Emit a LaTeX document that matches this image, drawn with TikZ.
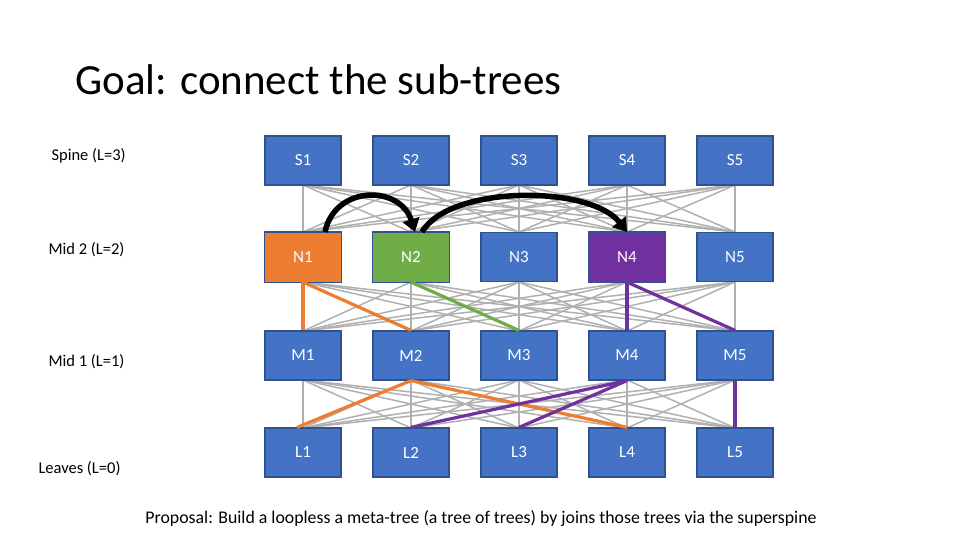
\documentclass[tikz,border=0pt]{standalone}
\usepackage{fontspec}
\setmainfont{Carlito}
\usetikzlibrary{arrows.meta}
\definecolor{boxblue}{HTML}{4472C4}
\definecolor{boxedge}{HTML}{2F528F}
\definecolor{orng}{HTML}{ED7D31}
\definecolor{grn}{HTML}{70AD47}
\definecolor{purp}{HTML}{7030A0}
\definecolor{edgegray}{HTML}{B0B0B0}
\begin{document}
\begin{tikzpicture}[x=1pt,y=-1pt,
  sw/.style={draw=boxedge,line width=1.2pt,fill=boxblue,minimum width=76pt,minimum height=49pt,inner sep=0pt,text=white,font=\fontsize{17}{19}\selectfont},
  lbl/.style={text=white,font=\fontsize{17}{19}\selectfont},
  lvl/.style={anchor=west,font=\fontsize{16.5}{18}\selectfont},
  grayedge/.style={draw=edgegray,line width=1.5pt},
  hl/.style={line width=3.2pt},
  jump/.style={line width=5.5pt,-{Triangle[length=13pt,width=17pt]}}]
\useasboundingbox (0,0) rectangle (960,540);
\node[anchor=base west,font=\fontsize{43}{45}\selectfont] (title) at (72,95) {Goal: connect the sub-trees};
\node[lvl] (l3) at (48,156) {Spine (L=3)};
\node[lvl] (l2) at (45,250) {Mid 2 (L=2)};
\node[lvl] (l1) at (45,362) {Mid 1 (L=1)};
\node[lvl] (l0) at (35,469) {Leaves (L=0)};
\node[font=\fontsize{17.8}{19}\selectfont] (prop) at (481,519) {Proposal: Build a loopless a meta-tree (a tree of trees) by joins those trees via the superspine};
% edges
\foreach \i in {1,...,5}{\foreach \j in {1,...,5}{
  \path[grayedge] (303+108*\i-108,185) -- (303+108*\j-108,232);
  \path[grayedge] (303+108*\i-108,282) -- (303+108*\j-108,331);
  \path[grayedge] (303+108*\i-108,380) -- (303+108*\j-108,428);
}}
\foreach \i [count=\k] in {S,N,M,L}{\foreach \j in {1,...,5}{
  \pgfmathsetmacro{\yy}{\k==1?160.5:(\k==2?257:(\k==3?355.5:452.5))}
  \node[sw] (\i\j) at (303+108*\j-108,\yy) {\i\j};
}}
\draw[boxedge,line width=1.2pt,fill=orng] (N1.south west) rectangle (N1.north east);
\draw[boxedge,line width=1.2pt,fill=grn] (N2.south west) rectangle (N2.north east);
\draw[boxedge,line width=1.2pt,fill=purp] (N4.south west) rectangle (N4.north east);
\node[lbl] at (N1) {N1};
\node[lbl] at (N2) {N2};
\node[lbl] at (N4) {N4};
\draw[hl,orng] (N1.south) -- (M1.north);
\draw[hl,orng] (N1.south) -- (M2.north);
\draw[hl,grn] (N2.south) -- (M3.north);
\draw[hl,purp] (N4.south) -- (M4.north);
\draw[hl,purp] (N4.south) -- (M5.north);
\draw[hl,orng] (M2.south) -- ([xshift=-6pt]L1.north);
\draw[hl,orng] (M2.south) -- (L4.north);
\draw[hl,purp] (M4.south) -- (L2.north);
\draw[hl,purp] (M4.south) -- (L3.north);
\draw[hl,purp] (M5.south) -- (L5.north);
\draw[jump] ([xshift=22pt]N1.north) .. controls +(10,-47) and +(-15,-47) .. ([xshift=4pt]N2.north);
\draw[jump] ([xshift=11pt]N2.north) .. controls +(28,-47) and +(-37,-47) .. (N4.north);
\end{tikzpicture}
\end{document}
